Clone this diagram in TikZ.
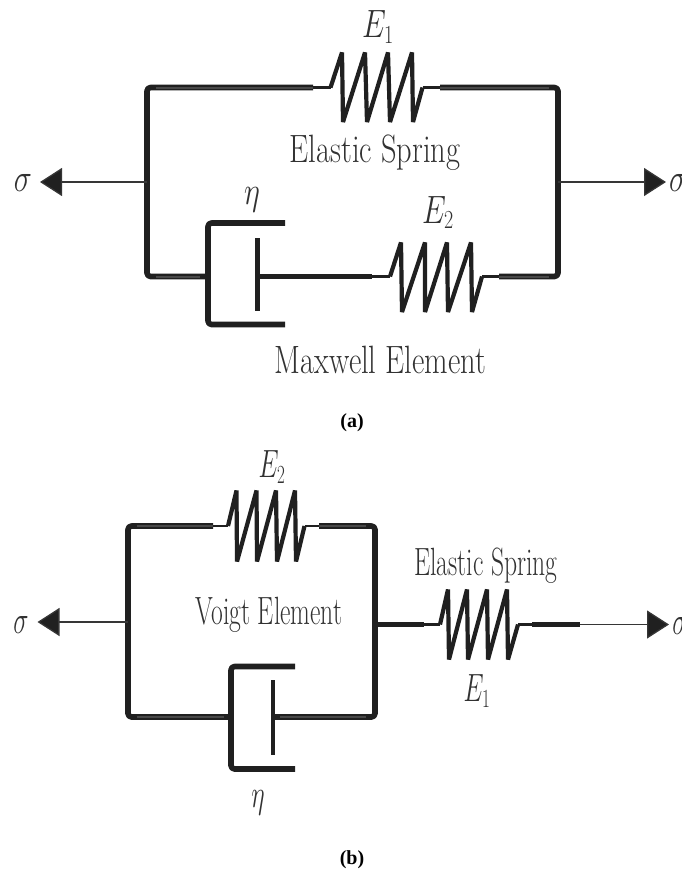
\documentclass[tikz,border=0pt]{standalone}
\usepackage{fix-cm}
\usepackage[no-math]{fontspec}
\usepackage{amsmath}
\usepackage{graphicx}
\usetikzlibrary{arrows.meta}
\DeclareMathSizes{30.4}{30.4}{20}{15}
\DeclareMathSizes{25.6}{25.6}{17}{13}
\newfontfamily\capfont{Liberation Serif}
\newcommand{\tallA}[1]{\scalebox{1}[1.3]{#1}}
\newcommand{\tallB}[1]{\scalebox{1}[1.54]{#1}}
\definecolor{ink}{HTML}{202020}
\definecolor{core}{HTML}{484848}
\tikzset{
  wire/.style={draw=ink,line width=5.6pt,rounded corners=3.5pt,line cap=butt,line join=round},
  wirecore/.style={draw=core,line width=2pt},
  coil/.style={draw=ink,line width=4.2pt,line join=bevel},
  stub/.style={draw=ink,line width=2.8pt,line join=bevel},
  plate/.style={draw=ink,line width=5pt},
  force/.style={draw=ink!90!white,line width=1.3pt,-{Triangle[length=22pt,width=28pt,fill=ink]}},
  lab/.style={inner sep=0pt,anchor=base,text=ink!92!white,font=\fontsize{30.4}{34}\selectfont},
  labs/.style={inner sep=0pt,anchor=base,text=ink!92!white,font=\fontsize{25.6}{28}\selectfont},
  sublab/.style={inner sep=0pt,anchor=base,text=black,font=\capfont\bfseries\fontsize{20}{22}\selectfont},
}
\begin{document}
\begin{tikzpicture}[x=1pt,y=-1pt]
\clip (0,0) rectangle (681,871);
% ---------- panel (a) ----------
\coordinate (aTL) at (147,87.5);   \coordinate (aTR) at (558,87.5);
\coordinate (aBL) at (147,276.5);  \coordinate (aBR) at (558,276.5);
\coordinate (aJL) at (147,182);    \coordinate (aJR) at (558,182);
\coordinate (aS1a) at (313,87.5);  \coordinate (aS1b) at (440,87.5);
\coordinate (aCyl) at (208,276.5); \coordinate (aPis) at (257,276.5);
\coordinate (aS2a) at (372,276.5); \coordinate (aS2b) at (499,276.5);
\coordinate (aTipL) at (40,182);   \coordinate (aTipR) at (666,182);
% wires
\draw[wire] (aS1a) -- (aTL) -- (aBL) -- (aCyl);
\draw[wire] (aS1b) -- (aTR) -- (aBR) -- (aS2b);
\draw[wire,line width=5.6pt] (aPis) -- (aS2a);
\draw[wirecore] (156,87.5) -- (aS1a);
\draw[wirecore] (aS1b) -- (549,87.5);
\draw[wirecore] (156,276.5) -- (200,276.5);
\draw[wirecore] (aS2b) -- (549,276.5);
% spring E1
\draw[stub] (aS1a) -- (330.5,87.5);
\draw[coil] (330.5,87.5) -- (342,52.5) -- (343,122) -- (365,52.5) -- (367,122) -- (388,52.5) -- (390,122) -- (412,52.5) -- (413,122) -- (422.5,87.5);
\draw[stub] (422.5,87.5) -- (aS1b);
% dashpot
\draw[wire] (285,223) -- (208,223) -- (208,324.5) -- (285,324.5);
\draw[plate] (257,238) -- (257,310.5);
% spring E2
\draw[stub] (aS2a) -- (390,276.5);
\draw[coil] (390,276.5) -- (401,242.5) -- (402,312) -- (425,242.5) -- (425,312) -- (447,242.5) -- (448,312) -- (471,242.5) -- (472,312) -- (482,276.5);
\draw[stub] (482,276.5) -- (aS2b);
% forces
\draw[force] (aJL) -- (aTipL);
\draw[force] (aJR) -- (aTipR);
% labels
\node[lab] (aSigL) at (23,191.5) {\tallA{$\sigma$}};
\node[lab] (aSigR) at (678,191.5) {\tallA{$\sigma$}};
\node[lab] (aE1) at (378,37.3) {\tallA{$E_1$}};
\node[lab] (aE2) at (438,223) {\tallA{$E_2$}};
\node[lab] (aEta) at (252,204) {\tallA{$\eta$}};
\node[lab] (aSpr) at (375,162) {\tallA{Elastic Spring}};
\node[lab] (aMax) at (380.5,373) {\tallA{Maxwell Element}};
\node[sublab] (aCap) at (352,427) {(a)};
% ---------- panel (b) ----------
\coordinate (bTL) at (128,526);    \coordinate (bTR) at (375,526);
\coordinate (bBL) at (128,717);    \coordinate (bBR) at (375,717);
\coordinate (bJL) at (128,622);    \coordinate (bJR) at (375,624.5);
\coordinate (bS2a) at (213,526);   \coordinate (bS2b) at (319,526);
\coordinate (bCyl) at (231,717);   \coordinate (bPis) at (272.7,717);
\coordinate (bS1a) at (424,624.5); \coordinate (bS1b) at (532,624.5);
\coordinate (bEnd) at (580,624.5);
\coordinate (bTipL) at (37.5,622); \coordinate (bTipR) at (669,624.5);
% wires
\draw[wire] (bS2a) -- (bTL) -- (bBL) -- (bCyl);
\draw[wire] (bS2b) -- (bTR) -- (bBR) -- (bPis);
\draw[wirecore] (137,526) -- (bS2a);
\draw[wirecore] (bS2b) -- (366,526);
\draw[wirecore] (137,717) -- (224,717);
\draw[wirecore] (280,717) -- (366,717);
\draw[wire] (bJR) -- (bS1a);
\draw[wire] (bS1b) -- (bEnd);
% spring E2
\draw[stub] (bS2a) -- (228,526);
\draw[coil] (228,526) -- (236.5,490.5) -- (237,561.5) -- (256.5,490.5) -- (257,561.5) -- (276,490.5) -- (277,561.5) -- (295,490.5) -- (296,561.5) -- (304.5,526);
\draw[stub] (304.5,526) -- (bS2b);
% dashpot
\draw[wire] (295,666.5) -- (231,666.5) -- (231,769) -- (295,769);
\draw[plate,line width=4pt] (272.7,680) -- (272.7,755);
% spring E1
\draw[stub] (bS1a) -- (440,624.5);
\draw[coil] (440,624.5) -- (448,589.5) -- (449,659.5) -- (467,589.5) -- (468,659.5) -- (487,589.5) -- (488,659.5) -- (507,589.5) -- (508,659.5) -- (518,624.5);
\draw[stub] (518,624.5) -- (bS1b);
% forces
\draw[force] (bJL) -- (bTipL);
\draw[force] (bEnd) -- (bTipR);
% labels
\node[labs] (bSigL) at (21,633) {\tallB{$\sigma$}};
\node[labs] (bSigR) at (680,634) {\tallB{$\sigma$}};
\node[labs] (bE2) at (272,477.7) {\tallB{$E_2$}};
\node[labs] (bE1) at (477,701.7) {\tallB{$E_1$}};
\node[labs] (bEta) at (258,807) {\tallB{$\eta$}};
\node[labs] (bVoi) at (269,624) {\tallB{Voigt Element}};
\node[labs] (bSpr) at (486,575) {\tallB{Elastic Spring}};
\node[sublab] (bCap) at (352,864) {(b)};
\end{tikzpicture}
\end{document}
